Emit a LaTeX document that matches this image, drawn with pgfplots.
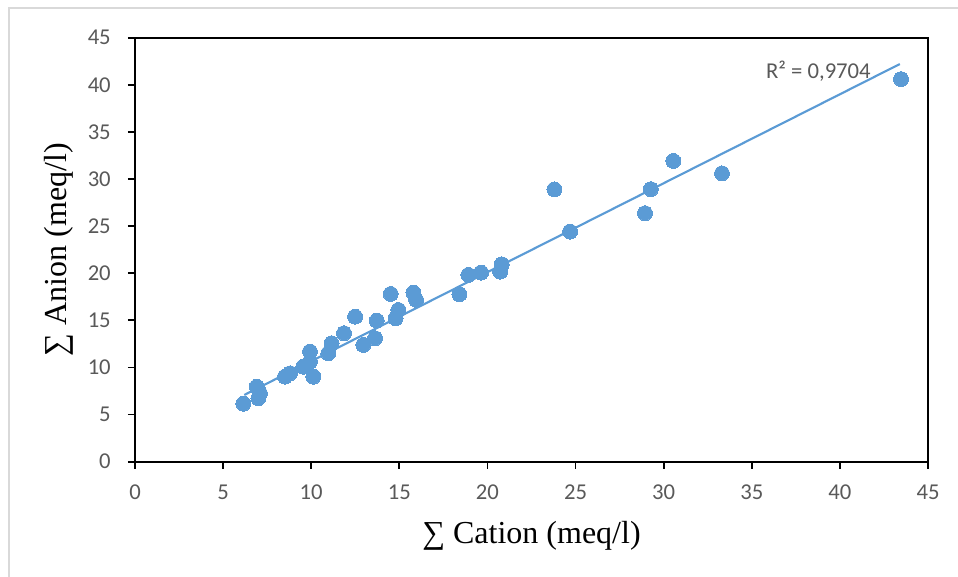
\documentclass[border=0pt]{standalone}
\usepackage{fontspec}
\setmainfont{Carlito}
\newfontfamily\timesf{Liberation Serif}
\usepackage{pgfplots}
\pgfplotsset{compat=1.18}
\definecolor{ptblue}{RGB}{91,155,213}
\definecolor{ticktext}{RGB}{89,89,89}
\definecolor{bordergray}{RGB}{217,217,217}
\begin{document}
\begin{tikzpicture}
\useasboundingbox (0pt,0pt) rectangle (718.5pt,432.75pt);
\draw[bordergray, line width=1pt] (6.75pt,-20pt) -- (6.75pt,426.75pt) -- (740pt,426.75pt);
\begin{axis}[
  at={(101.25pt,86.5pt)}, anchor=south west,
  scale only axis,
  width=594.75pt, height=318pt,
  xmin=0, xmax=45, ymin=0, ymax=45,
  xtick={0,5,...,45}, ytick={0,5,...,45},
  tick align=outside, tick pos=left,
  major tick length=5.25pt,
  axis line style={black, line width=1.5pt},
  every tick/.style={black, line width=1.3pt},
  /pgf/number format/assume math mode=true,
  tick label style={font=\fontsize{17}{19}\selectfont, text=ticktext, inner sep=0pt},
  yticklabel style={xshift=-12.75pt},
  xticklabel style={yshift=-12.25pt},
  xlabel={\timesf ∑ Cation (meq/l)},
  ylabel={\timesf ∑ Anion (meq/l)},
  label style={font=\fontsize{24}{28}\selectfont, text=black},
  xlabel style={at={(axis description cs:0.5,-0.194)}, anchor=base},
  ylabel style={at={(axis description cs:-0.086,0.5)}, anchor=base},
  clip=false,
]
\addplot[ptblue, line width=1.6pt, no marks] coordinates {(6.2,7.08) (43.4,42.2)};
\addplot[only marks, mark=*, mark size=5.6pt, mark options={fill=ptblue, draw=ptblue, line width=0pt}] coordinates {
(6.15,6.15) (6.91,7.96) (7.09,7.26) (7.0,6.73) (8.51,9.02) (8.80,9.38)
(9.55,10.08) (9.93,10.62) (9.93,11.68) (10.12,9.02) (10.97,11.5) (11.16,12.57)
(11.86,13.63) (12.49,15.39) (12.96,12.39) (13.62,13.1) (13.72,14.97) (14.51,17.8)
(14.79,15.22) (14.95,16.1) (15.8,17.94) (15.95,17.17) (18.41,17.77) (18.92,19.82)
(19.64,20.07) (20.72,20.17) (20.81,20.95) (23.8,28.9) (24.69,24.42) (28.94,26.37)
(29.27,28.92) (30.55,31.92) (33.31,30.6) (43.47,40.6)
};
\node[anchor=west, inner sep=0pt, text=ticktext, font=\fontsize{17}{19}\selectfont] at (axis cs:35.8,41.4) {R² = 0,9704};
\end{axis}
\end{tikzpicture}
\end{document}
